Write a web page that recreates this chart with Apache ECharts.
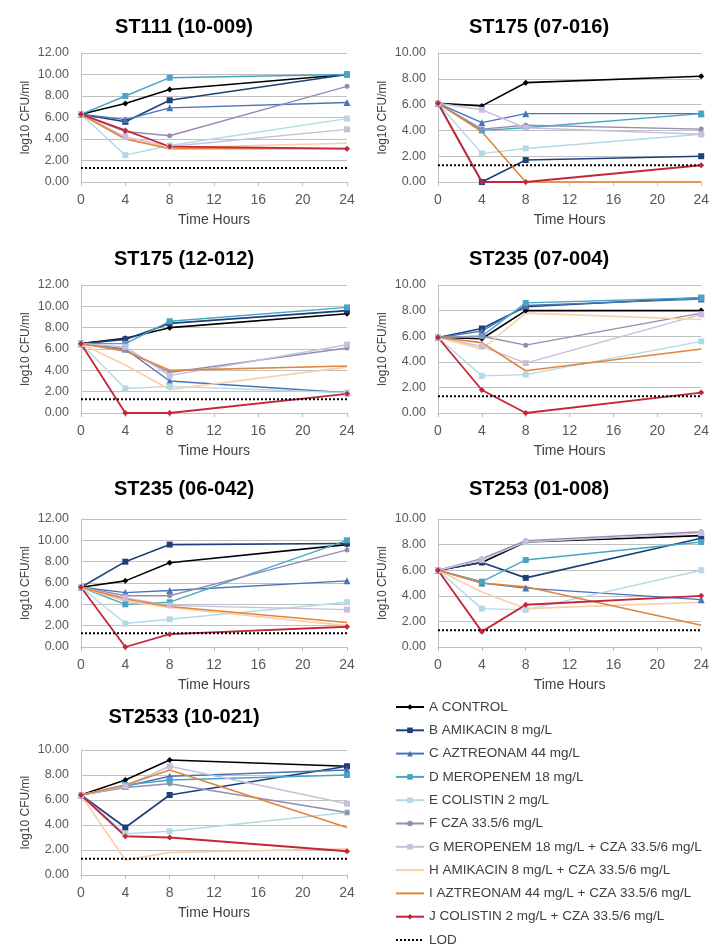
<!DOCTYPE html>
<html>
<head>
<meta charset="utf-8">
<script src="https://cdn.jsdelivr.net/npm/echarts@6/dist/echarts.min.js"></script>
<style>
html,body{margin:0;padding:0;background:#fff;}
#chart{width:712px;height:945px;}
</style>
</head>
<body>
<div id="chart"></div>
<script>
// ---- data ----
const hours = [0, 4, 8, 24];
const xTicks = ['0', '4', '8', '12', '16', '20', '24'];
const panelTitles = ['ST111 (10-009)', 'ST175 (07-016)', 'ST175 (12-012)', 'ST235 (07-004)',
                     'ST235 (06-042)', 'ST253 (01-008)', 'ST2533 (10-021)'];
const panelYMax = [12, 10, 12, 10, 12, 10, 10];
const lodValue = 1.3;

const seriesNames = ['A CONTROL', 'B AMIKACIN 8 mg/L', 'C AZTREONAM 44 mg/L', 'D MEROPENEM 18 mg/L',
  'E COLISTIN 2 mg/L', 'F CZA 33.5/6 mg/L', 'G MEROPENEM 18 mg/L + CZA 33.5/6 mg/L',
  'H AMIKACIN 8 mg/L + CZA 33.5/6 mg/L', 'I AZTREONAM 44 mg/L + CZA 33.5/6 mg/L',
  'J COLISTIN 2 mg/L + CZA 33.5/6 mg/L'];
const lodName = 'LOD';

// each array: one row per panel (order of panelTitles), values at hours 0,4,8,24
const aControl = [
  [6.3, 7.3, 8.6, 10.0], [6.1, 5.9, 7.7, 8.2], [6.5, 7.0, 8.0, 9.3], [5.9, 5.8, 8.0, 8.0],
  [5.6, 6.2, 7.9, 9.6], [6.0, 6.6, 8.2, 8.7], [6.4, 7.6, 9.2, 8.7]];
const bAmikacin = [
  [6.3, 5.6, 7.6, 10.0], [6.1, 0.0, 1.7, 2.0], [6.5, 6.9, 8.4, 9.6], [5.9, 6.6, 8.3, 9.0],
  [5.6, 8.0, 9.6, 9.7], [6.0, 6.6, 5.4, 8.5], [6.4, 3.8, 6.4, 8.7]];
const cAztreonam = [
  [6.3, 5.8, 6.9, 7.4], [6.1, 4.6, 5.3, 5.3], [6.5, 6.0, 3.0, 1.9], [5.9, 6.4, 8.4, 8.9],
  [5.6, 5.1, 5.3, 6.2], [6.0, 5.0, 4.6, 3.7], [6.4, 7.1, 7.9, 8.4]];
const dMeropenem = [
  [6.3, 8.0, 9.7, 10.0], [6.1, 4.0, 4.2, 5.3], [6.5, 6.5, 8.6, 9.9], [5.9, 6.0, 8.6, 9.0],
  [5.6, 4.0, 4.2, 10.0], [6.0, 5.1, 6.8, 8.2], [6.4, 7.2, 7.6, 8.0]];
const eColistin = [
  [6.3, 2.5, 3.4, 5.9], [6.1, 2.2, 2.6, 3.7], [6.5, 2.3, 2.5, 1.9], [5.9, 2.9, 3.0, 5.6],
  [5.6, 2.2, 2.6, 4.2], [6.0, 3.0, 2.9, 6.0], [6.4, 3.3, 3.5, 5.0]];
const fCza = [
  [6.3, 4.7, 4.3, 8.9], [6.1, 4.1, 4.4, 4.1], [6.5, 5.9, 3.8, 6.1], [5.9, 6.0, 5.3, 7.8],
  [5.6, 4.8, 4.8, 9.1], [6.0, 6.9, 8.3, 9.0], [6.4, 7.0, 7.3, 5.0]];
const gMeroCza = [
  [6.3, 4.2, 3.3, 4.9], [6.1, 5.6, 4.2, 3.7], [6.5, 6.2, 3.5, 6.4], [5.9, 5.2, 3.9, 7.7],
  [5.6, 4.6, 3.9, 3.5], [6.0, 6.8, 8.2, 8.9], [6.4, 7.1, 8.7, 5.7]];
const hAmikCza = [
  [6.3, 4.0, 3.2, 3.6], [6.1, 0.0, 0.0, 0.0], [6.5, 4.5, 2.2, 4.3], [5.9, 5.0, 7.8, 7.3],
  [5.6, 4.3, 3.7, 2.0], [6.0, 4.3, 3.0, 3.5], [6.4, 1.2, 1.8, 2.1]];
const iAztreoCza = [
  [6.3, 4.0, 3.1, 3.1], [6.1, 3.9, 0.0, 0.0], [6.5, 5.8, 4.0, 4.4], [5.9, 5.5, 3.3, 5.0],
  [5.6, 4.5, 3.8, 2.3], [6.0, 5.0, 4.7, 1.7], [6.4, 7.2, 8.4, 3.8]];
const jColistinCza = [
  [6.3, 4.8, 3.3, 3.1], [6.1, 0.0, 0.0, 1.3], [6.5, 0.0, 0.0, 1.8], [5.9, 1.8, 0.0, 1.6],
  [5.6, 0.0, 1.2, 1.9], [6.0, 1.2, 3.3, 4.0], [6.4, 3.1, 3.0, 1.9]];

const allSeriesData = [aControl, bAmikacin, cAztreonam, dMeropenem, eColistin, fCza,
                       gMeroCza, hAmikCza, iAztreoCza, jColistinCza];

// ---- styles ----
const seriesColors = ['#000000', '#1f3f7a', '#4a72b8', '#46a6c4', '#b3d9e6', '#918eb2',
                      '#c8bedb', '#f9cfa8', '#e0853a', '#c3263a'];
const seriesSymbols = ['diamond', 'rect', 'triangle', 'rect', 'rect', 'circle', 'rect', 'none', 'none', 'diamond'];
const seriesSymbolSizes = [6, 6, 7, 6, 6, 5, 6, 0, 0, 6];
const seriesWidths = [1.6, 1.6, 1.4, 1.4, 1.4, 1.4, 1.4, 1.6, 1.6, 1.8];

const colLeft = [81, 438];
const rowTop = [53, 285, 519, 750];
const rowHeight = [129, 128, 128, 125];
const gridWidth = 266;
const titleCenterX = [184, 539];
const titleTop = [17, 249, 479, 707];

const font = 'Liberation Sans, Arial, sans-serif';

const grids = [], xAxes = [], yAxes = [], titles = [], series = [];
panelTitles.forEach((t, p) => {
  const col = p % 2, row = Math.floor(p / 2);
  grids.push({left: colLeft[col], top: rowTop[row], width: gridWidth, height: rowHeight[row]});
  titles.push({text: t, left: titleCenterX[col], top: titleTop[row], textAlign: 'center', padding: 0,
    textStyle: {fontFamily: font, fontSize: 20, fontWeight: 'bold', color: '#000'}});
  xAxes.push({type: 'value', gridIndex: p, min: 0, max: 24, interval: 4,
    name: 'Time Hours', nameLocation: 'middle', nameGap: 31,
    nameTextStyle: {fontFamily: font, fontSize: 14, color: '#404040'},
    axisLine: {show: true, lineStyle: {color: '#bfbfbf', width: 1}},
    axisTick: {show: true, length: 4, lineStyle: {color: '#bfbfbf'}},
    axisLabel: {fontFamily: font, fontSize: 14, color: '#595959', margin: 11,
      formatter: v => xTicks[v / 4]},
    splitLine: {show: false}});
  yAxes.push({type: 'value', gridIndex: p, min: 0, max: panelYMax[p], interval: 2,
    name: 'log10 CFU/ml', nameLocation: 'middle', nameGap: 49, nameRotate: 90,
    nameTextStyle: {fontFamily: font, fontSize: 12, color: '#404040'},
    axisLine: {show: true, lineStyle: {color: '#bfbfbf', width: 1}},
    axisTick: {show: false},
    axisLabel: {fontFamily: font, fontSize: 12.5, color: '#595959', margin: 12,
      formatter: v => v.toFixed(2)},
    splitLine: {show: true, lineStyle: {color: '#c0c0c0', width: 1}}});
  allSeriesData.forEach((arr, s) => {
    series.push({type: 'line', name: seriesNames[s], xAxisIndex: p, yAxisIndex: p,
      data: hours.map((h, i) => [h, arr[p][i]]),
      symbol: seriesSymbols[s], symbolSize: seriesSymbolSizes[s], showSymbol: seriesSymbols[s] !== 'none',
      clip: false, animation: false,
      itemStyle: {color: seriesColors[s]},
      lineStyle: {color: seriesColors[s], width: seriesWidths[s]}});
  });
  series.push({type: 'line', name: lodName, xAxisIndex: p, yAxisIndex: p,
    data: [[0, lodValue], [24, lodValue]], symbol: 'none', animation: false,
    itemStyle: {color: '#000'},
    lineStyle: {color: '#000', width: 2, type: [2, 2]}});
});

const legendText = {fontFamily: font, fontSize: 13.5, color: '#404040', lineHeight: 14};
const legendData = seriesNames.map((n, s) =>
  seriesSymbols[s] === 'none' ? {name: n, itemStyle: {opacity: 0}} : {name: n});
const chart = echarts.init(document.getElementById('chart'), null, {renderer: 'canvas'});
chart.setOption({
  backgroundColor: '#ffffff',
  animation: false,
  title: titles,
  grid: grids,
  xAxis: xAxes,
  yAxis: yAxes,
  legend: [{
    orient: 'vertical', left: 395, top: 700, padding: 0,
    data: legendData,
    itemWidth: 28, itemHeight: 7, itemGap: 9.3,
    textStyle: legendText,
    selectedMode: false
  }, {
    orient: 'vertical', left: 395, top: 933, padding: 0,
    data: [{name: lodName, itemStyle: {opacity: 0}}],
    itemWidth: 28, itemHeight: 7,
    textStyle: legendText,
    selectedMode: false
  }],
  series: series
});
</script>
</body>
</html>
